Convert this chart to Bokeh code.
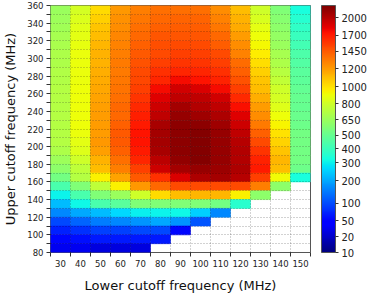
import numpy as np
from bokeh.plotting import figure
from bokeh.models import ColumnDataSource, FixedTicker, ColorBar, LinearColorMapper
from bokeh.transform import linear_cmap
from bokeh.embed import file_html
from bokeh.resources import INLINE

# ---- data -------------------------------------------------------------
lower_cutoff = [30, 40, 50, 60, 70, 80, 90, 100, 110, 120, 130, 140, 150]
upper_cutoff = list(range(350, 70, -10))  # rows, top to bottom: 350 ... 80
N = None
counts = [
    # 30   40    50    60    70    80    90   100   110   120   130   140   150
    [645, 820, 1020, 1210, 1310, 1370, 1370, 1370, 1260, 1100,  790,  570, 330],  # 350
    [660, 840, 1050, 1240, 1340, 1400, 1410, 1410, 1300, 1130,  830,  590, 360],  # 340
    [670, 860, 1080, 1260, 1370, 1430, 1440, 1440, 1340, 1160,  870,  610, 380],  # 330
    [680, 870, 1100, 1280, 1390, 1460, 1470, 1470, 1390, 1200,  900,  630, 400],  # 320
    [690, 880, 1120, 1300, 1420, 1490, 1510, 1510, 1440, 1250,  930,  650, 420],  # 310
    [700, 890, 1130, 1310, 1450, 1510, 1550, 1550, 1510, 1300,  960,  680, 440],  # 300
    [700, 890, 1140, 1320, 1480, 1560, 1600, 1600, 1560, 1380, 1000,  700, 460],  # 290
    [710, 895, 1150, 1330, 1510, 1610, 1660, 1660, 1610, 1430, 1050,  730, 470],  # 280
    [710, 895, 1160, 1340, 1530, 1660, 1770, 1740, 1680, 1480, 1080,  760, 480],  # 270
    [720, 900, 1170, 1350, 1560, 1780, 1900, 1880, 1770, 1560, 1100,  790, 490],  # 260
    [720, 900, 1180, 1370, 1600, 1850, 1980, 1980, 1900, 1650, 1150,  820, 500],  # 250
    [720, 900, 1190, 1390, 1650, 1930, 2070, 2020, 1980, 1750, 1200,  850, 500],  # 240
    [720, 900, 1200, 1400, 1690, 1980, 2110, 2090, 2040, 1850, 1260,  900, 510],  # 230
    [720, 900, 1200, 1420, 1710, 2050, 2140, 2140, 2090, 1930, 1330,  940, 520],  # 220
    [720, 890, 1200, 1450, 1740, 2070, 2150, 2170, 2110, 1980, 1420,  990, 535],  # 210
    [720, 870, 1210, 1450, 1740, 2070, 2150, 2180, 2120, 2000, 1510, 1040, 535],  # 200
    [700, 850, 1190, 1430, 1710, 2050, 2150, 2180, 2120, 2020, 1600, 1080, 535],  # 190
    [660, 790, 1130, 1370, 1665, 1990, 2130, 2170, 2110, 2025, 1680, 1120, 535],  # 180
    [610, 750, 1100, 1310, 1550, 1930, 2070, 2120, 2100, 2035, 1710, 1100, 520],  # 170
    [535, 720,  950, 1180, 1450, 1610, 1880, 2035, 2070, 2000, 1550,  920, 330],  # 160
    [435, 570,  750,  950, 1210, 1400, 1510, 1510, 1510, 1510, 1310,  610,   N],  # 150
    [305, 435,  570,  645,  790, 1020, 1100, 1120, 1120,  950,  610,    N,   N],  # 140
    [225, 310,  435,  470,  570,  570,  570,  570,  535,  365,    N,    N,   N],  # 130
    [165, 200,  225,  265,  295,  305,  310,  255,  165,    N,    N,    N,   N],  # 120
    [100, 128,  155,  165,  180,  200,  180,  110,    N,    N,    N,    N,   N],  # 110
    [ 72,  83,   93,   93,  100,  100,   52,    N,    N,    N,    N,    N,   N],  # 100
    [ 52,  57,   65,   65,   65,   65,    N,    N,    N,    N,    N,    N,   N],  # 90
    [ 36,  36,   30,   30,   30,    N,    N,    N,    N,    N,    N,    N,   N],  # 80
]

# colour-bar levels (non-linear scale) and their relative positions on the bar
cbar_levels = [10, 20, 50, 100, 200, 300, 400, 500, 650, 800, 1000, 1200, 1450, 1700, 2000]
cbar_pos = [0.0, 0.064, 0.129, 0.199, 0.291, 0.363, 0.42, 0.475, 0.538, 0.602,
            0.672, 0.744, 0.814, 0.879, 0.95]
cbar_top_value = 2200

# ---- styling helpers --------------------------------------------------
def jet(n=256):
    x = np.linspace(0, 1, n)
    r = np.interp(x, [0, 0.35, 0.66, 0.89, 1], [0, 0, 1, 1, 0.5])
    g = np.interp(x, [0, 0.125, 0.375, 0.64, 0.91, 1], [0, 0, 1, 1, 0, 0])
    b = np.interp(x, [0, 0.11, 0.34, 0.65, 1], [0.5, 1, 1, 0, 0])
    return ["#%02x%02x%02x" % (int(round(255 * a)), int(round(255 * c)), int(round(255 * d)))
            for a, c, d in zip(r, g, b)]

JET = jet()
FONT = "DejaVu Sans"

lv = cbar_levels + [cbar_top_value]
ps = cbar_pos + [1.0]

xs, ys, vals = [], [], []
for i, u in enumerate(upper_cutoff):
    for j, l in enumerate(lower_cutoff):
        v = counts[i][j]
        if v is None:
            continue
        xs.append(l)
        ys.append(u)
        vals.append(v)
xs = np.array(xs, dtype=float)
ys = np.array(ys, dtype=float)
vals = np.array(vals, dtype=float)
src = ColumnDataSource(dict(
    left=xs - 5, right=xs + 5, bottom=ys, top=ys + 10,
    value=vals, tv=np.interp(vals, lv, ps),
))

p = figure(frame_width=260, frame_height=247,
           x_range=(25, 155), y_range=(80, 360),
           output_backend="svg", toolbar_location=None,
           min_border_left=44, min_border_top=5, min_border_right=0, min_border_bottom=0)

cmap = linear_cmap("tv", JET, 0, 1)
p.quad(left="left", right="right", bottom="bottom", top="top", source=src,
       fill_color=cmap, line_color=cmap, line_width=0.6)

# axes
p.xaxis.ticker = FixedTicker(ticks=lower_cutoff,
                             minor_ticks=[l - 5 for l in lower_cutoff] + [lower_cutoff[-1] + 5])
p.yaxis.ticker = FixedTicker(ticks=list(range(80, 361, 20)),
                             minor_ticks=list(range(90, 360, 20)))
for ax in (p.xaxis[0], p.yaxis[0]):
    ax.axis_line_color = None
    ax.major_label_text_font = FONT
    ax.major_label_text_font_size = "8.5px"
    ax.major_label_text_color = "#222222"
    ax.axis_label_text_font = FONT
    ax.axis_label_text_font_size = "13px"
    ax.axis_label_text_font_style = "normal"
    ax.axis_label_text_color = "#111111"
    ax.major_tick_line_color = "#333333"
    ax.minor_tick_line_color = "#333333"
    ax.major_tick_in = 0
    ax.minor_tick_in = 0

p.xaxis.major_tick_out = 0
p.xaxis.minor_tick_out = 4
p.xaxis.major_label_standoff = 3
p.xaxis.axis_label = "Lower cutoff frequency (MHz)"
p.xaxis.axis_label_standoff = 8

p.yaxis.major_tick_out = 4
p.yaxis.minor_tick_out = 4
p.yaxis.major_label_standoff = 3
p.yaxis.axis_label = "Upper cutoff frequency (MHz)"
p.yaxis.axis_label_standoff = 6

# dotted grid over the cells, on cell boundaries
p.xgrid.ticker = FixedTicker(ticks=[l + 5 for l in lower_cutoff[:-1]])
p.ygrid.ticker = FixedTicker(ticks=list(range(90, 360, 10)))
p.grid.grid_line_color = "#000000"
p.grid.grid_line_alpha = 0.45
p.grid.grid_line_dash = "1 2"
p.grid.grid_line_width = 0.8
p.grid.level = "overlay"

p.outline_line_color = "#555555"
p.outline_line_width = 1
p.background_fill_color = "white"

mapper = LinearColorMapper(palette=JET, low=0, high=1)
cb = ColorBar(color_mapper=mapper,
              ticker=FixedTicker(ticks=cbar_pos),
              major_label_overrides={t: str(v) for t, v in zip(cbar_pos, cbar_levels)},
              width=14, height=247, margin=0, padding=0,
              location=(11, 0),
              major_tick_in=0, major_tick_out=3, major_tick_line_color="#333333",
              bar_line_color="#555555",
              label_standoff=3,
              major_label_text_font=FONT, major_label_text_font_size="10px",
              major_label_text_color="#222222",
              background_fill_alpha=0, border_line_color=None)
p.add_layout(cb, "right")

open("out.html", "w").write(file_html(p, INLINE))
